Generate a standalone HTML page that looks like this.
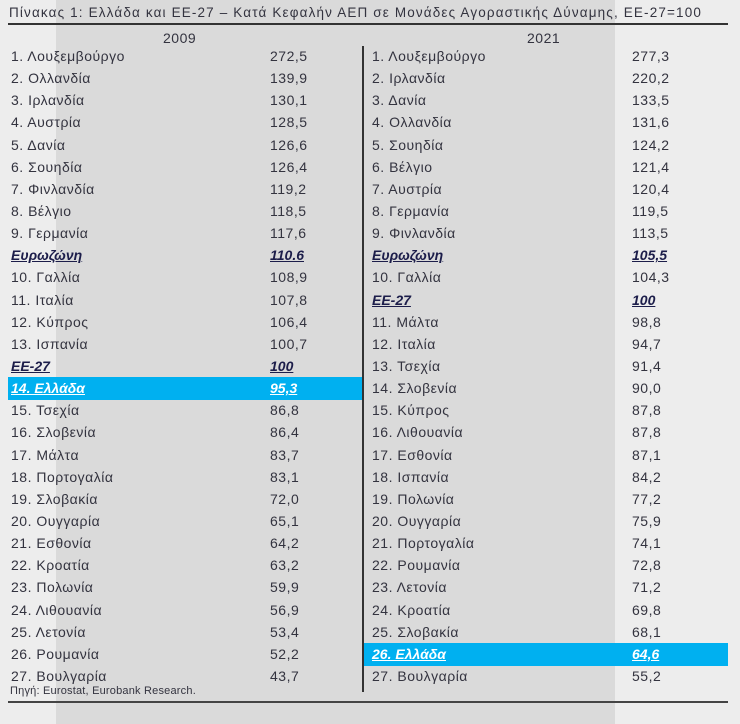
<!DOCTYPE html>
<html><head><meta charset="utf-8"><style>
body{margin:0;width:740px;height:724px;background:#ededed;position:relative;overflow:hidden;font-family:"Liberation Sans","DejaVu Sans",sans-serif;color:#33333f;font-size:14px;letter-spacing:0.5px}
.band{position:absolute;left:56px;top:0;width:559px;height:724px;background:#dadada}
.t{position:absolute;white-space:nowrap;line-height:16px}
.hl{position:absolute;background:#00b0f0}
.em{font-weight:bold;font-style:italic;text-decoration:underline;color:#1c1d4a;letter-spacing:0}
.w{font-weight:bold;font-style:italic;text-decoration:underline;color:#fff;letter-spacing:0}
</style></head><body>
<div class="band"></div>
<div class="t" style="left:9px;top:5px;font-size:13.5px;letter-spacing:1.15px">Πίνακας 1: Ελλάδα και ΕΕ-27 – Κατά Κεφαλήν ΑΕΠ σε Μονάδες Αγοραστικής Δύναμης, ΕΕ-27=100</div>
<div style="position:absolute;left:8px;top:23px;width:720px;height:2px;background:#333"></div>
<div class="t" style="left:163px;top:30px">2009</div>
<div class="t" style="left:527px;top:30px">2021</div>
<div style="position:absolute;left:362px;top:46px;width:2px;height:646px;background:#333"></div>
<div class="hl" style="left:8px;top:377px;width:354px;height:23px"></div>
<div class="hl" style="left:364px;top:643px;width:364px;height:23px"></div>
<div style="position:absolute;left:8px;top:701px;width:720px;height:2px;background:#444"></div>
<div class="t" style="left:10px;top:683px;font-size:11px;letter-spacing:0.2px">Πηγή: Eurostat, Eurobank Research.</div>
<div id="rows"></div>
<script>
var L=[["1. Λουξεμβούργο","272,5"],["2. Ολλανδία","139,9"],["3. Ιρλανδία","130,1"],["4. Αυστρία","128,5"],["5. Δανία","126,6"],["6. Σουηδία","126,4"],["7. Φινλανδία","119,2"],["8. Βέλγιο","118,5"],["9. Γερμανία","117,6"],["Ευρωζώνη","110.6","em"],["10. Γαλλία","108,9"],["11. Ιταλία","107,8"],["12. Κύπρος","106,4"],["13. Ισπανία","100,7"],["ΕΕ-27","100","em"],["14. Ελλάδα","95,3","w"],["15. Τσεχία","86,8"],["16. Σλοβενία","86,4"],["17. Μάλτα","83,7"],["18. Πορτογαλία","83,1"],["19. Σλοβακία","72,0"],["20. Ουγγαρία","65,1"],["21. Εσθονία","64,2"],["22. Κροατία","63,2"],["23. Πολωνία","59,9"],["24. Λιθουανία","56,9"],["25. Λετονία","53,4"],["26. Ρουμανία","52,2"],["27. Βουλγαρία","43,7"]];
var R=[["1. Λουξεμβούργο","277,3"],["2. Ιρλανδία","220,2"],["3. Δανία","133,5"],["4. Ολλανδία","131,6"],["5. Σουηδία","124,2"],["6. Βέλγιο","121,4"],["7. Αυστρία","120,4"],["8. Γερμανία","119,5"],["9. Φινλανδία","113,5"],["Ευρωζώνη","105,5","em"],["10. Γαλλία","104,3"],["ΕΕ-27","100","em"],["11. Μάλτα","98,8"],["12. Ιταλία","94,7"],["13. Τσεχία","91,4"],["14. Σλοβενία","90,0"],["15. Κύπρος","87,8"],["16. Λιθουανία","87,8"],["17. Εσθονία","87,1"],["18. Ισπανία","84,2"],["19. Πολωνία","77,2"],["20. Ουγγαρία","75,9"],["21. Πορτογαλία","74,1"],["22. Ρουμανία","72,8"],["23. Λετονία","71,2"],["24. Κροατία","69,8"],["25. Σλοβακία","68,1"],["26. Ελλάδα","64,6","w"],["27. Βουλγαρία","55,2"]];
var h="";
function add(a,xn,xv){a.forEach(function(r,i){var y=48+i*22.14;var c=r[2]||"";h+='<div class="t '+c+'" style="left:'+xn+'px;top:'+y+'px">'+r[0]+'</div><div class="t '+c+'" style="left:'+xv+'px;top:'+y+'px">'+r[1]+'</div>';});}
add(L,11,270);add(R,372,632);
document.getElementById("rows").innerHTML=h;
</script>
</body></html>
